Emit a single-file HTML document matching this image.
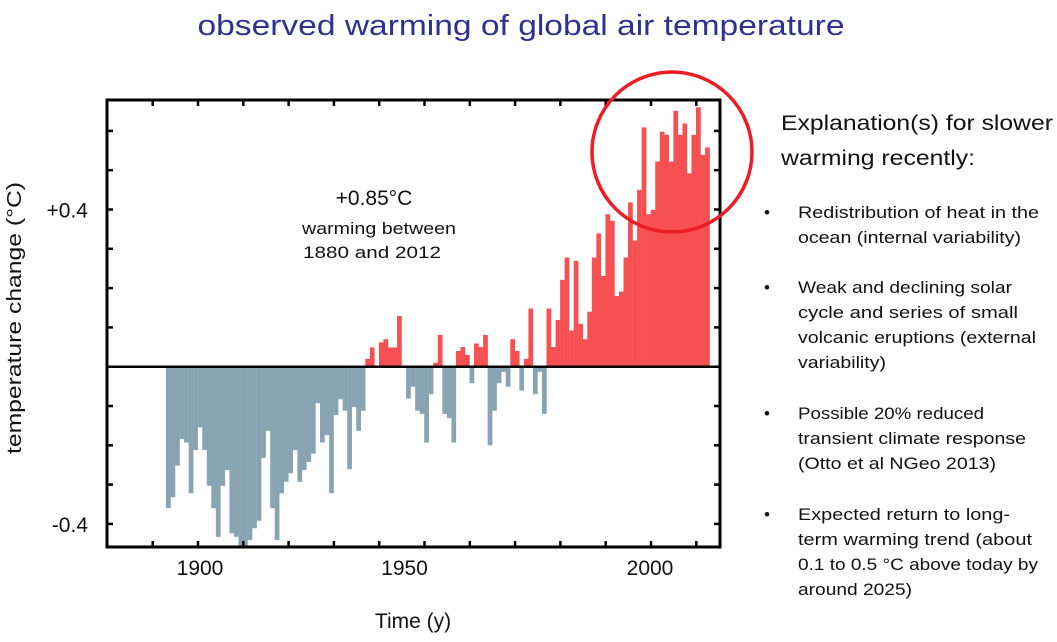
<!DOCTYPE html>
<html><head><meta charset="utf-8"><style>
html,body{margin:0;padding:0;background:#fff;}
svg{display:block;font-family:"Liberation Sans",sans-serif;}
</style></head><body>
<svg id="chart" width="1057" height="642" viewBox="0 0 1057 642">
<text x="521" y="35" text-anchor="middle" font-size="29" fill="#2e3192" textLength="647" lengthAdjust="spacingAndGlyphs">observed warming of global air temperature</text>
<g id="bars"></g>
<g id="axes"></g>
<text x="374" y="205" text-anchor="middle" font-size="21" fill="#111">+0.85°C</text>
<text x="379" y="234" text-anchor="middle" font-size="17" fill="#111" textLength="154" lengthAdjust="spacingAndGlyphs">warming between</text>
<text x="372" y="258" text-anchor="middle" font-size="17" fill="#111" textLength="138" lengthAdjust="spacingAndGlyphs">1880 and 2012</text>
<circle cx="672" cy="152" r="80" fill="none" stroke="#ee1c25" stroke-width="3.5"/>
<text transform="translate(21,318) rotate(-90)" text-anchor="middle" font-size="20" fill="#111" textLength="272" lengthAdjust="spacingAndGlyphs">temperature change (°C)</text>
<text x="413" y="628" text-anchor="middle" font-size="21" fill="#111">Time (y)</text>
<g font-size="17" fill="#111">
<text x="781" y="130" font-size="21" textLength="272" lengthAdjust="spacingAndGlyphs">Explanation(s) for slower</text>
<text x="781" y="165" font-size="21" textLength="194" lengthAdjust="spacingAndGlyphs">warming recently:</text>
<g><text x="764" y="218">•</text><text x="798" y="218" textLength="241" lengthAdjust="spacingAndGlyphs">Redistribution of heat in the</text><text x="798" y="243" textLength="223" lengthAdjust="spacingAndGlyphs">ocean (internal variability)</text></g>
<g><text x="764" y="293">•</text><text x="798" y="293" textLength="214" lengthAdjust="spacingAndGlyphs">Weak and declining solar</text><text x="798" y="318" textLength="220" lengthAdjust="spacingAndGlyphs">cycle and series of small</text><text x="798" y="343" textLength="238" lengthAdjust="spacingAndGlyphs">volcanic eruptions (external</text><text x="798" y="368" textLength="88" lengthAdjust="spacingAndGlyphs">variability)</text></g>
<g><text x="764" y="419">•</text><text x="798" y="419" textLength="186" lengthAdjust="spacingAndGlyphs">Possible 20% reduced</text><text x="798" y="444" textLength="228" lengthAdjust="spacingAndGlyphs">transient climate response</text><text x="798" y="469" textLength="198" lengthAdjust="spacingAndGlyphs">(Otto et al NGeo 2013)</text></g>
<g><text x="764" y="520">•</text><text x="798" y="520" textLength="212" lengthAdjust="spacingAndGlyphs">Expected return to long-</text><text x="798" y="545" textLength="234" lengthAdjust="spacingAndGlyphs">term warming trend (about</text><text x="798" y="570" textLength="240" lengthAdjust="spacingAndGlyphs">0.1 to 0.5 °C above today by</text><text x="798" y="595" textLength="114" lengthAdjust="spacingAndGlyphs">around 2025)</text></g>
</g>
</svg>
<script>
const startYear = 1893;
const anomalies = [
-0.360,-0.332,-0.252,-0.184,-0.193,-0.322,-0.212,
-0.154,-0.212,-0.303,-0.360,-0.433,-0.303,-0.263,-0.424,-0.433,-0.458,
-0.458,-0.441,-0.411,-0.392,-0.232,-0.163,-0.360,-0.441,-0.322,-0.293,
-0.271,-0.212,-0.293,-0.263,-0.242,-0.221,-0.093,-0.193,-0.174,-0.322,
-0.123,-0.083,-0.112,-0.261,-0.103,-0.163,-0.112,0.020,0.049,0.0,
0.062,0.070,0.049,0.049,0.129,0.0,-0.081,-0.051,-0.112,-0.120,
-0.193,-0.070,0.010,0.081,-0.120,-0.131,-0.193,0.040,0.050,0.030,
-0.042,0.059,0.050,0.081,-0.200,-0.112,-0.042,-0.013,-0.051,0.070,
0.040,-0.061,0.020,0.148,-0.070,-0.013,-0.120,0.148,0.050,0.119,
0.221,0.278,0.092,0.269,0.109,0.070,0.140,0.278,0.339,0.231,
0.388,0.371,0.180,0.191,0.278,0.418,0.321,0.450,0.609,0.388,
0.399,0.522,0.598,0.590,0.522,0.651,0.590,0.619,0.492,0.590,
0.660,0.539,0.558];
const yTickLabels = ["+0.4","-0.4"];
const yTickValues = [0.4,-0.4];
const xTickLabels = ["1900","1950","2000"];
const xTickValues = [1900,1950,2000];

const NS="http://www.w3.org/2000/svg";
const X0=107, X1=720, Y0=100, Y1=547;
function xs(year){return 198+(year-1900)*4.53;}
function ys(v){return 366.7-v*393;}
function mk(tag,attrs,parent){const e=document.createElementNS(NS,tag);for(const k in attrs)e.setAttribute(k,attrs[k]);parent.appendChild(e);return e;}
const bars=document.getElementById('bars');
anomalies.forEach((v,i)=>{
  const yr=startYear+i;
  const x=xs(yr)-(xs(1893)-166);
  const y=Math.min(ys(v),ys(0)), h=Math.abs(ys(v)-ys(0));
  const r=mk('rect',{x:x.toFixed(2),y:y.toFixed(2),width:4.75,height:h.toFixed(2),fill:v>=0?'#f65053':'#88a4b3'},bars);
  
  
});
const ax=document.getElementById('axes');
const fr=mk('rect',{x:X0,y:Y0,width:X1-X0,height:Y1-Y0,fill:'none',stroke:'#000','stroke-width':3},ax);


const zl=mk('line',{x1:X0,x2:X1,y1:ys(0),y2:ys(0),stroke:'#000','stroke-width':2.5},ax);


for(let v=-0.4;v<=0.6001;v+=0.1){
  if(Math.abs(v)<0.001)continue;
  const y=ys(v);
  const t1=mk('line',{x1:X0,x2:X0+6,y1:y,y2:y,stroke:'#000','stroke-width':2.5},ax);
  
  
  const t2=mk('line',{x1:X1-6,x2:X1,y1:y,y2:y,stroke:'#000','stroke-width':2.5},ax);
  
  
}
for(let yr=1890;yr<=2010;yr+=10){
  const x=xs(yr);
  const a=mk('line',{x1:x,x2:x,y1:Y1,y2:Y1-6,stroke:'#000','stroke-width':2.5},ax);
  
  
  const b=mk('line',{x1:x,x2:x,y1:Y0,y2:Y0+6,stroke:'#000','stroke-width':2.5},ax);
  
  
}
yTickLabels.forEach((l,i)=>{
  const t=mk('text',{x:88,y:ys(yTickValues[i])+8,'text-anchor':'end','font-size':21,fill:'#111'},ax);
  t.textContent=l;
  
  
});
const xLabelShift=[2,-20,-1];
xTickLabels.forEach((l,i)=>{
  const t=mk('text',{x:xs(xTickValues[i])+xLabelShift[i],y:575,'text-anchor':'middle','font-size':21,fill:'#111'},ax);
  t.textContent=l;
  
  
});
</script>
</body></html>
